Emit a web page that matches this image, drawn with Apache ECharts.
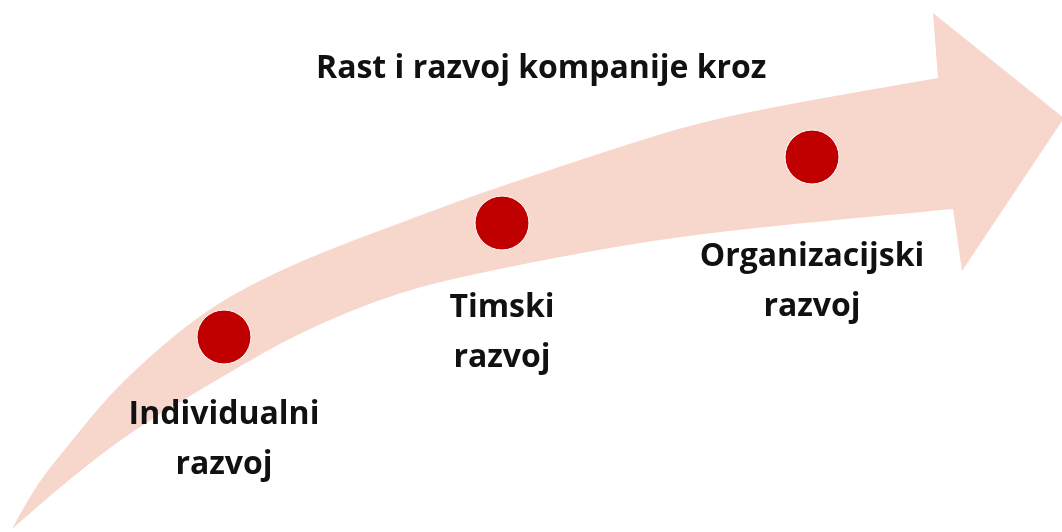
<!DOCTYPE html>
<html>
<head>
<meta charset="utf-8">
<script src="https://cdn.jsdelivr.net/npm/echarts@6/dist/echarts.min.js"></script>
<style>
html,body{margin:0;padding:0;background:#ffffff;}
#chart{width:1062px;height:532px;}
</style>
</head>
<body>
<div id="chart"></div>
<script>
// ---- data ----
var titleText = 'Rast i razvoj kompanije kroz';
var stages = ['Individualni\nrazvoj', 'Timski\nrazvoj', 'Organizacijski\nrazvoj'];
var stageX = [224, 502, 812];
var stageY = [337, 223, 157];
// arrow outline (in axis units)
var arrowUpper = [[12,529],[33,489],[70,443],[110,394],[160,347],[210,308],[260,280],[320,253],[400,223],[467,198],[520,180],[613,149],[700,122],[800,102],[938,78]];
var arrowLower = [[12,529],[67,481],[133,430],[225,375],[300,332],[400,291],[502,268],[613,247],[700,234],[812,222],[953,209]];
var arrowHead = [[938,78],[933,13],[1064,118],[962,271],[953,209]];

// ---- layout (not data) ----
var labelOffsetY = [103, 110, 125];

function curvePath(pts) {
  var d = '';
  for (var i = 1; i < pts.length - 1; i++) {
    var mx = (pts[i][0] + pts[i + 1][0]) / 2, my = (pts[i][1] + pts[i + 1][1]) / 2;
    d += ' Q ' + pts[i][0] + ' ' + pts[i][1] + ' ' + mx + ' ' + my;
  }
  var l = pts[pts.length - 1];
  d += ' L ' + l[0] + ' ' + l[1];
  return d;
}

var chart = echarts.init(document.getElementById('chart'), null, {renderer: 'canvas'});
var fontFam = '"Open Sans", "Noto Sans", sans-serif';

chart.setOption({
  backgroundColor: '#ffffff',
  animation: false,
  title: {
    text: titleText,
    left: 311,
    top: 48,
    textStyle: {fontFamily: fontFam, fontWeight: 'bold', fontSize: 32, color: '#111111'}
  },
  grid: {left: 0, right: 0, top: 0, bottom: 0},
  xAxis: {type: 'value', min: 0, max: 1062, show: false},
  yAxis: {type: 'value', min: 0, max: 532, inverse: true, show: false},
  series: [
    {
      type: 'custom',
      silent: true,
      data: [0],
      renderItem: function (params, api) {
        function c(p) { return api.coord(p); }
        var up = arrowUpper.map(c);
        var lo = arrowLower.map(c);
        var head = arrowHead.map(c);
        var d = 'M ' + up[0][0] + ' ' + up[0][1] + curvePath(up);
        for (var i = 1; i < head.length; i++) d += ' L ' + head[i][0] + ' ' + head[i][1];
        var loRev = lo.slice().reverse();
        d += curvePath(loRev) + ' Z';
        return {
          type: 'path',
          shape: {pathData: d},
          style: {fill: '#F7D6CC', stroke: null}
        };
      },
      z: 1
    },
    {
      type: 'scatter',
      symbol: 'circle',
      symbolSize: 54,
      silent: true,
      itemStyle: {color: '#C00000', opacity: 1, borderColor: '#ffffff', borderWidth: 1},
      data: stages.map(function (name, i) {
        return {
          value: [stageX[i], stageY[i]],
          name: name,
          label: {
            show: true,
            position: 'inside',
            offset: [0, labelOffsetY[i]],
            formatter: name,
            fontFamily: fontFam,
            fontWeight: 'bold',
            fontSize: 32,
            lineHeight: 50,
            color: '#111111',
            opacity: 1,
            align: 'center'
          }
        };
      }),
      z: 3
    }
  ]
});
</script>
</body>
</html>
